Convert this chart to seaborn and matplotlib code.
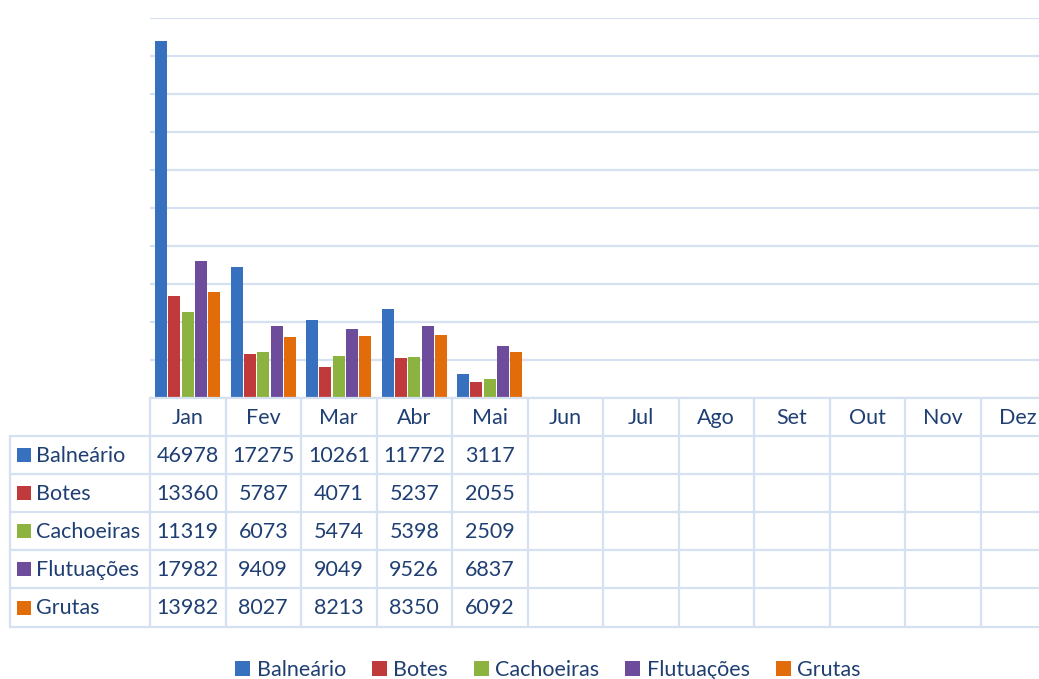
import numpy as np
import pandas as pd
import matplotlib
matplotlib.use('Agg')
import matplotlib.pyplot as plt
import seaborn as sns
from matplotlib import transforms
from matplotlib.lines import Line2D
from matplotlib.patches import Patch, Rectangle

months = ['Jan', 'Fev', 'Mar', 'Abr', 'Mai', 'Jun', 'Jul', 'Ago', 'Set', 'Out', 'Nov', 'Dez']
data_months = ['Jan', 'Fev', 'Mar', 'Abr', 'Mai']
series = ['Balneário', 'Botes', 'Cachoeiras', 'Flutuações', 'Grutas']
balneario = [46978, 17275, 10261, 11772, 3117]
botes = [13360, 5787, 4071, 5237, 2055]
cachoeiras = [11319, 6073, 5474, 5398, 2509]
flutuacoes = [17982, 9409, 9049, 9526, 6837]
grutas = [13982, 8027, 8213, 8350, 6092]
values = [balneario, botes, cachoeiras, flutuacoes, grutas]
colors = ['#3670bf', '#c0393b', '#8cb23f', '#6e4c9c', '#e36c0a']

rows = []
for s, vals in zip(series, values):
    for m, v in zip(data_months, vals):
        rows.append({'Mês': m, 'Série': s, 'Valor': v})
df = pd.DataFrame(rows)

sns.set_theme(style='white')
plt.rcParams['font.family'] = ['Lato', 'DejaVu Sans']

W, H = 1039, 679
txtc = '#1f3f73'
gridc = '#d5e1f1'
fs = 15.5

fig = plt.figure(figsize=(W / 100, H / 100), dpi=100)
ax = fig.add_axes([150 / W, 1 - 398 / H, 906 / W, 380 / H])
sns.barplot(data=df, x='Mês', y='Valor', hue='Série', order=months, hue_order=series,
            palette=colors, width=0.88, gap=0.1, saturation=1, legend=False, ax=ax)
ax.set_xlim(-0.5, 11.5)
ax.set_ylim(0, 50000)
ax.set_yticks(np.arange(0, 50001, 5000))
ax.yaxis.grid(True, color=gridc, lw=1.6)
ax.set_axisbelow(True)
ax.tick_params(left=False, bottom=False, labelleft=False, labelbottom=False)
for sp in ax.spines.values():
    sp.set_visible(False)
ax.set_xlabel('')
ax.set_ylabel('')
for p in ax.patches:
    p.set_edgecolor('none')

bt = transforms.blended_transform_factory(ax.transData, fig.transFigure)
def fy(py):
    return 1 - py / H
def fx(px):
    return px / W

row_y = [398, 436, 474, 512, 550, 588, 627]
for i in range(13):
    x = -0.5 + i
    fig.add_artist(Line2D([x, x], [fy(398), fy(627)], transform=bt, color=gridc, lw=1.6))
fig.add_artist(Line2D([fx(10), fx(10)], [fy(436), fy(627)], transform=fig.transFigure, color=gridc, lw=1.6))
fig.add_artist(Line2D([fx(150), fx(1100)], [fy(398), fy(398)], transform=fig.transFigure, color=gridc, lw=1.6))
for py in row_y[1:]:
    fig.add_artist(Line2D([fx(10), fx(1100)], [fy(py), fy(py)], transform=fig.transFigure, color=gridc, lw=1.6))

for i, m in enumerate(months):
    fig.text(i, fy(418), m, transform=bt, ha='center', va='center', fontsize=fs, color=txtc)

for r, (s, vals, c) in enumerate(zip(series, values, colors)):
    yc = (row_y[r + 1] + row_y[r + 2]) / 2
    fig.add_artist(Rectangle((fx(17), fy(yc + 7)), 14 / W, 14 / H, transform=fig.transFigure,
                             facecolor=c, edgecolor='none'))
    fig.text(fx(36), fy(yc + 1), s, ha='left', va='center', fontsize=fs, color=txtc)
    for i, v in enumerate(vals):
        fig.text(i, fy(yc + 1), f'{v}', transform=bt, ha='center', va='center', fontsize=fs, color=txtc)

handles = [Patch(facecolor=c, edgecolor='none', label=s) for s, c in zip(series, colors)]
fig.legend(handles=handles, loc='center', bbox_to_anchor=(548 / W, fy(670)), ncol=5, frameon=False,
           handlelength=0.7, handleheight=0.7, handletextpad=0.3, columnspacing=1.2,
           fontsize=fs, labelcolor=txtc)

fig.savefig('out.png', dpi=100, facecolor='white')
